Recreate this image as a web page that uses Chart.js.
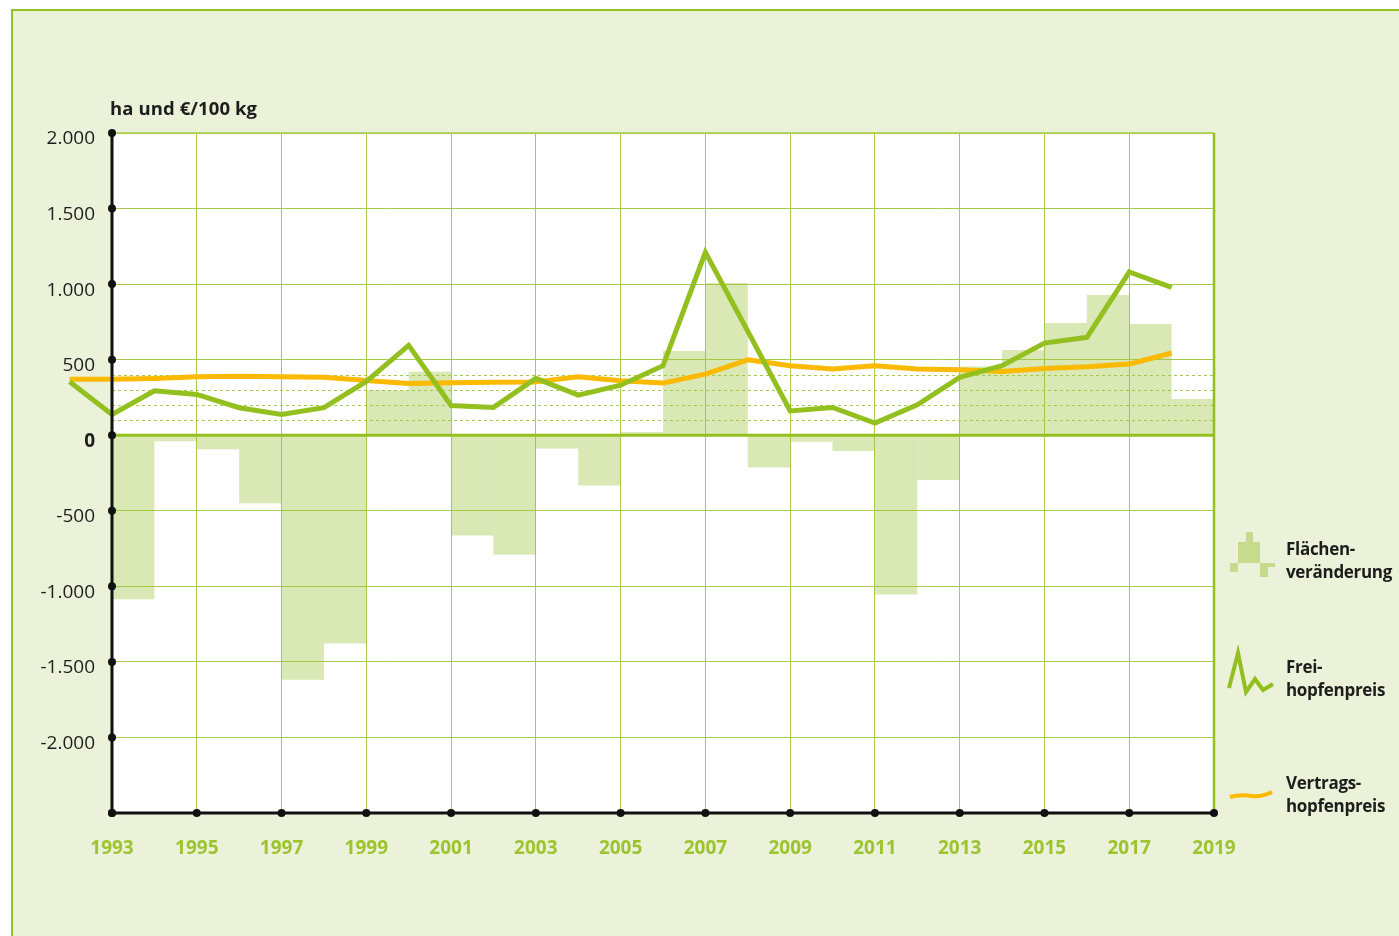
<!DOCTYPE html>
<html><head><meta charset="utf-8">
<script src="https://cdn.jsdelivr.net/npm/chart.js@4.4.1/dist/chart.umd.min.js"></script>
<style>
html,body{margin:0;padding:0;background:#fff;width:1399px;height:936px;overflow:hidden;font-family:"Open Sans",sans-serif}
#frame{position:absolute;left:11px;top:9px;width:1400px;height:940px;background:#ecf1da;border-left:2.5px solid #95c11f;border-top:2.5px solid #95c11f;}
#wrap{position:absolute;left:0;top:0;width:1399px;height:936px}
.t{position:absolute;font-weight:bold;color:#1d1d1b;font-size:17px;line-height:23px;letter-spacing:-0.3px;white-space:nowrap}
</style></head><body>
<div id="frame"></div>
<div id="wrap"><canvas id="c"></canvas></div>
<div class="t" style="left:110px;top:96px;font-size:18.5px;letter-spacing:0.1px">ha und €/100 kg</div>
<div class="t" style="left:1286px;top:537px">Flächen-<br>veränderung</div>
<div class="t" style="left:1286px;top:655px">Frei-<br>hopfenpreis</div>
<div class="t" style="left:1286px;top:771px">Vertrags-<br>hopfenpreis</div>
<script>
// ---- data ----
const barYears = [1993,1994,1995,1996,1997,1998,1999,2000,2001,2002,2003,2004,2005,2006,2007,2008,2009,2010,2011,2012,2013,2014,2015,2016,2017,2018];
const flaechenVeraenderung = [-1085,-40,-93,-451,-1618,-1379,298,420,-663,-791,-88,-332,22,557,1008,-214,-44,-104,-1054,-296,455,564,743,928,736,239];
const lineYears = [1992,1993,1994,1995,1996,1997,1998,1999,2000,2001,2002,2003,2004,2005,2006,2007,2008,2009,2010,2011,2012,2013,2014,2015,2016,2017,2018];
const freihopfenpreis = [354,137,294,270,182,137,182,356,595,197,184,376,265,331,460,1210,688,161,184,80,201,383,460,610,648,1080,979];
const vertragshopfenpreis = [371,371,376,387,391,387,383,362,343,347,350,353,387,361,345,404,499,460,438,460,438,433,422,442,453,471,544];
const xTickYears = [1993,1995,1997,1999,2001,2003,2005,2007,2009,2011,2013,2015,2017,2019];
const yTickValues = [2000,1500,1000,500,0,-500,-1000,-1500,-2000,-2500];
const yTickLabels = ['2.000','1.500','1.000','500','0','-500','-1.000','-1.500','-2.000',''];
const helperLines = [100,200,300,400];

const GREEN = '#93c01f', ORANGE = '#fbb900', GRID = '#a6cc4b';

const deco = {
  id:'deco',
  beforeDraw(chart){
    const {ctx, chartArea:a} = chart;
    ctx.save(); ctx.fillStyle='#fff'; ctx.fillRect(a.left,a.top,a.right-a.left,a.bottom-a.top); ctx.restore();
  },
  beforeDatasetsDraw(chart){
    const {ctx, chartArea:a, scales:{y}} = chart;
    ctx.save(); ctx.strokeStyle=GRID; ctx.lineWidth=1; ctx.setLineDash([3,3]);
    helperLines.forEach(v=>{const py=Math.round(y.getPixelForValue(v))+0.5; ctx.beginPath(); ctx.moveTo(a.left,py); ctx.lineTo(a.right,py); ctx.stroke();});
    ctx.restore();
  },
  afterDatasetsDraw(chart){
    const {ctx, chartArea:a, scales:{x,y}} = chart;
    ctx.save();
    const y0 = y.getPixelForValue(0);
    ctx.strokeStyle=GREEN; ctx.lineWidth=3; ctx.beginPath(); ctx.moveTo(a.left,y0); ctx.lineTo(a.right,y0); ctx.stroke();
    ctx.strokeStyle=GRID; ctx.lineWidth=1.5; ctx.beginPath(); ctx.moveTo(a.left,a.top); ctx.lineTo(a.right,a.top); ctx.stroke();
    ctx.strokeStyle=GREEN; ctx.lineWidth=2.5; ctx.beginPath(); ctx.moveTo(a.right,a.top); ctx.lineTo(a.right,a.bottom); ctx.stroke();
    ctx.strokeStyle='#111'; ctx.lineWidth=3;
    ctx.beginPath(); ctx.moveTo(a.left,a.top); ctx.lineTo(a.left,a.bottom); ctx.lineTo(a.right,a.bottom); ctx.stroke();
    ctx.fillStyle='#111';
    yTickValues.forEach(v=>{ctx.beginPath(); ctx.arc(a.left,y.getPixelForValue(v),4,0,Math.PI*2); ctx.fill();});
    xTickYears.forEach(v=>{ctx.beginPath(); ctx.arc(x.getPixelForValue(v),a.bottom,4,0,Math.PI*2); ctx.fill();});
    ctx.restore();
  },
  afterDraw(chart){
    const ctx = chart.ctx;
    ctx.save();
    ctx.fillStyle='#c6dc8c';
    ctx.fillRect(1246,532,7,10);
    ctx.fillRect(1238,542,22,21);
    ctx.fillRect(1230,563,8,9);
    ctx.fillRect(1260,563,15,4);
    ctx.fillRect(1260,567,8,10);
    ctx.strokeStyle=GREEN; ctx.lineWidth=4; ctx.lineJoin='miter';
    ctx.beginPath();
    [[1229,688],[1238,653],[1246,692],[1255,679],[1263,690],[1273,684]].forEach((p,i)=>i?ctx.lineTo(p[0],p[1]):ctx.moveTo(p[0],p[1]));
    ctx.stroke();
    ctx.strokeStyle=ORANGE; ctx.lineWidth=4; ctx.lineCap='butt';
    ctx.beginPath(); ctx.moveTo(1230,797); ctx.bezierCurveTo(1240,794,1246,795,1252,796); ctx.bezierCurveTo(1260,797,1266,795,1272,792); ctx.stroke();
    ctx.restore();
  }
};

new Chart(document.getElementById('c'), {
  type:'bar',
  data:{
    datasets:[
      {type:'line', label:'Freihopfenpreis', data: lineYears.map((yr,i)=>({x:yr,y:freihopfenpreis[i]})),
       borderColor:GREEN, borderWidth:5, pointRadius:0, tension:0, clip:false, order:1, borderJoinStyle:'miter'},
      {type:'line', label:'Vertragshopfenpreis', data: lineYears.map((yr,i)=>({x:yr,y:vertragshopfenpreis[i]})),
       borderColor:ORANGE, borderWidth:5, pointRadius:0, tension:0, clip:false, order:2, borderJoinStyle:'round'},
      {type:'bar', label:'Flächenveränderung', data: barYears.map((yr,i)=>({x:yr+0.5,y:flaechenVeraenderung[i]})),
       backgroundColor:'rgba(155,195,60,0.38)', borderWidth:0, inflateAmount:0, categoryPercentage:1, barPercentage:1, order:3}
    ]
  },
  options:{
    responsive:true, maintainAspectRatio:false, animation:false, devicePixelRatio:1,
    layout:{padding:{left:0,top:133,right:185,bottom:63}},
    plugins:{legend:{display:false}, tooltip:{enabled:false}},
    scales:{
      x:{type:'linear', min:1993, max:2019, offset:false,
         afterBuildTicks:s=>{s.ticks = xTickYears.map(v=>({value:v}));},
         afterFit:s=>{s.height=60;},
         grid:{color:GRID, lineWidth:1, drawTicks:false, offset:false},
         border:{display:false},
         ticks:{padding:24, color:'#9cc42e', font:{family:'"Open Sans"', size:19, weight:'bold'}, callback:v=>String(v), maxRotation:0, autoSkip:false}
      },
      y:{type:'linear', min:-2500, max:2000,
         afterBuildTicks:s=>{s.ticks = yTickValues.map(v=>({value:v}));},
         afterFit:s=>{s.width=112;},
         grid:{color:GRID, lineWidth:1, drawTicks:false},
         border:{display:false},
         ticks:{padding:17, labelOffset:6, color:'#1d1d1b', autoSkip:false,
                font:c=>({family:'"Open Sans"', size:19, weight: c.tick && c.tick.value===0 ? 'bold':'normal'}),
                callback:v=>yTickLabels[yTickValues.indexOf(v)]}
      }
    }
  },
  plugins:[deco]
});
</script>
</body></html>
